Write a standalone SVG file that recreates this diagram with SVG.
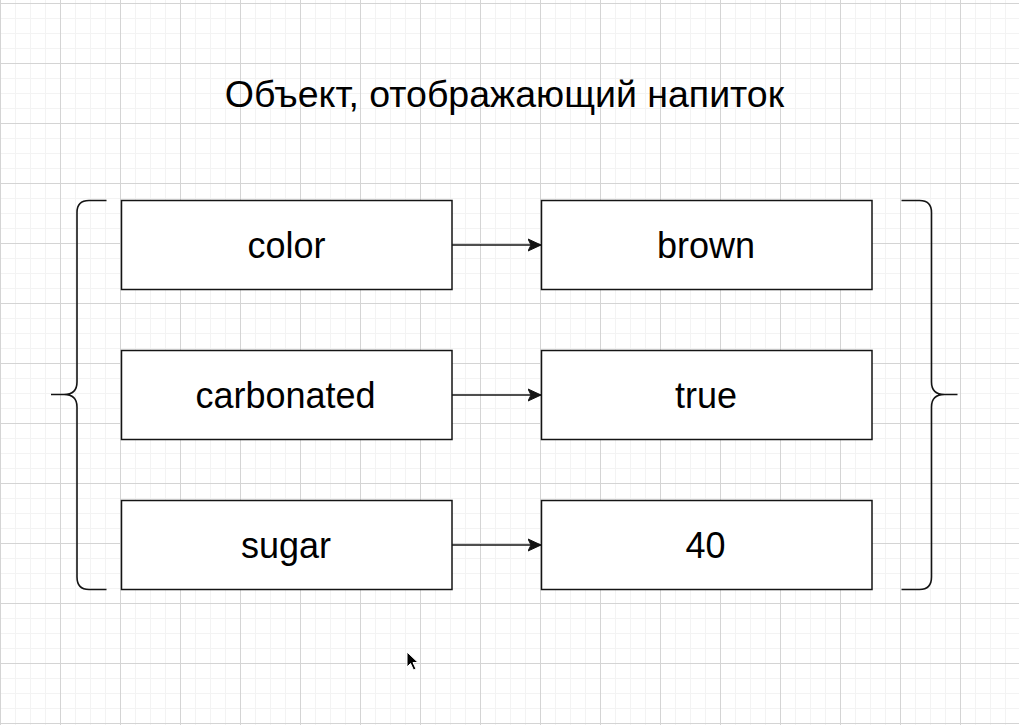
<svg xmlns="http://www.w3.org/2000/svg" width="1019" height="725" viewBox="0 0 1019 725">
  <style>
    .box { fill: #ffffff; stroke: #141414; stroke-width: 1.5; }
    .lbl { font-family: "Liberation Sans", Arial, Helvetica, sans-serif; font-size: 36px; fill: #000000; text-anchor: middle; }
    .title { font-family: "Liberation Sans", Arial, Helvetica, sans-serif; font-size: 37.5px; fill: #000000; text-anchor: middle; }
    .brace { fill: none; stroke: #141414; stroke-width: 1.6; }
    .conn { fill: none; stroke: #141414; stroke-width: 1.4; }
  </style>
  <defs>
    <pattern id="minor" width="15" height="15" patternUnits="userSpaceOnUse" x="0" y="3">
      <path d="M 0.5 0 V 15 M 0 0.5 H 15" fill="none" stroke="#f3f3f3" stroke-width="1"/>
    </pattern>
    <pattern id="major" width="60" height="60" patternUnits="userSpaceOnUse" x="0" y="3">
      <path d="M 0.5 0 V 60 M 0 0.5 H 60" fill="none" stroke="#d4d4d4" stroke-width="1"/>
    </pattern>
    <marker id="arrow" markerWidth="15" markerHeight="15" refX="13.5" refY="7" orient="auto" markerUnits="userSpaceOnUse">
      <path d="M 0.5 1 L 13.5 7 L 0.5 13 L 3.5 7 Z" fill="#141414" stroke="#141414" stroke-width="1"/>
    </marker>
  </defs>

  <rect width="1019" height="725" fill="#ffffff"/>
  <rect width="1019" height="725" fill="url(#minor)"/>
  <rect width="1019" height="725" fill="url(#major)"/>

  <g id="title">
    <text class="title" x="504.5" y="107">Объект, отображающий напиток</text>
  </g>

  <g id="brace-left">
    <path class="brace" d="M 106.5 200.5 H 89 Q 77 200.5 77 212.5 V 382 Q 77 394.5 64 394.5 H 51 M 64 394.5 Q 77 394.5 77 407 V 577 Q 77 589.5 89 589.5 H 106.5"/>
  </g>
  <g id="brace-right">
    <path class="brace" d="M 901.5 200.5 H 919.5 Q 931.5 200.5 931.5 212.5 V 382 Q 931.5 394.5 944.5 394.5 H 957.5 M 944.5 394.5 Q 931.5 394.5 931.5 407 V 577 Q 931.5 589.5 919.5 589.5 H 901.5"/>
  </g>

  <g id="node-color">
    <rect class="box" x="121.5" y="200.5" width="330.5" height="89"/>
    <text class="lbl" x="286.5" y="257.5">color</text>
  </g>
  <g id="node-brown">
    <rect class="box" x="541.5" y="200.5" width="330.5" height="89"/>
    <text class="lbl" x="706" y="257.5">brown</text>
  </g>
  <g id="node-carbonated">
    <rect class="box" x="121.5" y="350.5" width="330.5" height="89"/>
    <text class="lbl" x="285.5" y="407.5">carbonated</text>
  </g>
  <g id="node-true">
    <rect class="box" x="541.5" y="350.5" width="330.5" height="89"/>
    <text class="lbl" x="706" y="407.5">true</text>
  </g>
  <g id="node-sugar">
    <rect class="box" x="121.5" y="500.5" width="330.5" height="89"/>
    <text class="lbl" x="286" y="557.5">sugar</text>
  </g>
  <g id="node-40">
    <rect class="box" x="541.5" y="500.5" width="330.5" height="89"/>
    <text class="lbl" x="705.5" y="557.5">40</text>
  </g>

  <g id="connectors">
    <line class="conn" x1="452" y1="245" x2="541" y2="245" marker-end="url(#arrow)"/>
    <line class="conn" x1="452" y1="395" x2="541" y2="395" marker-end="url(#arrow)"/>
    <line class="conn" x1="452" y1="545" x2="541" y2="545" marker-end="url(#arrow)"/>
  </g>

  <g id="cursor">
    <path d="M 407 652 L 407 667 L 410.5 663.5 L 413.5 670 L 416 669 L 413 662.5 L 418 662.5 Z" fill="#000000" stroke="#ffffff" stroke-width="1"/>
  </g>
</svg>
